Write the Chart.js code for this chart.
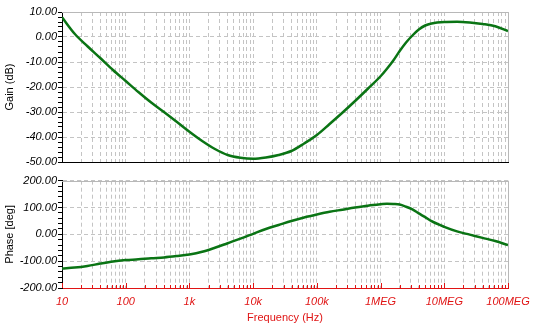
<!DOCTYPE html>
<html>
<head>
<meta charset="utf-8">
<script src="https://cdn.jsdelivr.net/npm/chart.js@4.4.1/dist/chart.umd.min.js"></script>
<style>
  html, body { margin: 0; padding: 0; background: #fff; }
  #wrap { position: relative; width: 546px; height: 335px; overflow: hidden; }
  #gainBox { position: absolute; left: 0; top: 0; width: 546px; height: 170px; }
  #phaseBox { position: absolute; left: 0; top: 170px; width: 546px; height: 165px; }
</style>
</head>
<body>
<div id="wrap">
  <div id="gainBox"><canvas id="gain" width="546" height="170"></canvas></div>
  <div id="phaseBox"><canvas id="phase" width="546" height="165"></canvas></div>
</div>
<script>
// Bode plot data: frequency points (Hz), gain (dB) and phase (deg)
const freqHz = [
  10, 15.8, 25.1, 39.8, 63.1,
  100, 158, 251, 398, 631,
  1000, 1585, 2512, 3981, 6310,
  10000, 15850, 25120, 39810, 63100,
  100000, 158500, 251200, 398100, 631000,
  1000000, 1259000, 1585000, 1995000, 2512000, 3162000, 3981000, 5012000, 6310000,
  10000000, 15850000, 25120000, 39810000, 63100000,
  100000000
];
const gainDb = [
  7.9, 1.3, -3.7, -8.4, -13.2,
  -17.6, -22.0, -26.2, -30.0, -33.9,
  -37.9, -41.6, -44.8, -47.2, -48.3,
  -48.7, -48.2, -47.2, -45.6, -42.6,
  -39.2, -34.8, -30.3, -25.6, -20.7,
  -15.7, -12.7, -9.4, -5.6, -2.2, 0.6, 3.0, 4.6, 5.4,
  6.0, 6.1, 5.8, 5.2, 4.3,
  2.4
];
const phaseDeg = [
  -127, -124, -118, -109, -101,
  -96, -93, -89, -86, -81,
  -75, -65, -50, -33, -16,
  2, 20, 35, 50, 63,
  74, 84, 92, 100, 107,
  112, 114, 113, 111, 103, 93, 78, 64, 49,
  28, 11, -1, -13, -25,
  -40
];

// Axis labelling
const decadeTicks = [10, 100, 1000, 10000, 100000, 1000000, 10000000, 100000000];
const decadeLabels = ['10', '100', '1k', '10k', '100k', '1MEG', '10MEG', '100MEG'];
const gainRange = [-50, 10];
const phaseRange = [-200, 200];

const RED = '#e01414';
const GRID = '#c4c4c4';
const FRAME = '#b8b8b8';
const LINE = '#0a7414';
const FONT = 'Arial, "Liberation Sans", sans-serif';

// every 1..9 x decade position on the frequency axis
const freqTickValues = [];
decadeTicks.forEach((d, i) => {
  if (i === decadeTicks.length - 1) { freqTickValues.push(d); return; }
  for (let m = 1; m <= 9; m++) freqTickValues.push(m * d);
});

function linearTicks(min, max, step) {
  const out = [];
  for (let v = min; v <= max + 1e-9; v += step) out.push(v);
  return out;
}

// gray top/right frame, plus short upward ticks on the frequency axis
const framePlugin = {
  id: 'frame',
  afterDatasetsDraw(chart, args, opts) {
    const { ctx, chartArea: a } = chart;
    ctx.save();
    ctx.lineWidth = 1;
    ctx.strokeStyle = FRAME;
    ctx.beginPath();
    ctx.moveTo(a.left, Math.round(a.top) + 0.5);
    ctx.lineTo(Math.round(a.right) + 0.5, Math.round(a.top) + 0.5);
    ctx.lineTo(Math.round(a.right) + 0.5, a.bottom);
    ctx.stroke();
    if (opts.tickColor) {
      const xs = chart.scales.x;
      ctx.strokeStyle = opts.tickColor;
      xs.ticks.forEach(t => {
        const px = Math.round(xs.getPixelForValue(t.value)) + 0.5;
        const len = decadeTicks.includes(t.value) ? 5 : 3;
        ctx.beginPath();
        ctx.moveTo(px, a.bottom);
        ctx.lineTo(px, a.bottom - len);
        ctx.stroke();
      });
    }
    ctx.restore();
  }
};

function freqAxis(showLabels, axisColor) {
  return {
    type: 'logarithmic',
    min: 10,
    max: 100000000,
    afterBuildTicks: s => { s.ticks = freqTickValues.map(v => ({ value: v })); },
    afterFit: s => { s.height = showLabels ? 47 : 0; },
    ticks: {
      display: showLabels,
      autoSkip: false,
      maxRotation: 0,
      minRotation: 0,
      padding: 7,
      color: RED,
      font: { family: FONT, size: 11, style: 'italic' },
      callback: v => {
        const i = decadeTicks.indexOf(v);
        return i >= 0 ? decadeLabels[i] : '';
      }
    },
    grid: { color: GRID, lineWidth: 1, drawTicks: false },
    border: { color: axisColor, width: 1, dash: [4, 3] },
    title: {
      display: showLabels,
      text: 'Frequency (Hz)',
      color: RED,
      font: { family: FONT, size: 11 },
      padding: { top: 0, bottom: 10 }
    }
  };
}

function valueAxis(range, step, major, label) {
  return {
    min: range[0],
    max: range[1],
    afterBuildTicks: s => { s.ticks = linearTicks(range[0], range[1], step).map(v => ({ value: v })); },
    afterFit: s => { s.width = 62; },
    ticks: {
      autoSkip: false,
      padding: 1,
      color: '#000',
      font: { family: FONT, size: 11, style: 'italic' },
      callback: v => (Math.abs(v % major) < 1e-9 ? (v === 0 ? 0 : v).toFixed(2) : '')
    },
    grid: {
      color: c => (c.tick && Math.abs(c.tick.value % major) < 1e-9 ? GRID : 'rgba(0,0,0,0)'),
      lineWidth: 1,
      tickColor: '#000',
      tickLength: 4
    },
    border: { color: '#000', width: 1, dash: [4, 3] },
    title: {
      display: true,
      text: label,
      color: '#000',
      font: { family: FONT, size: 11 },
      padding: { top: 3.4, bottom: 0 }
    }
  };
}

function makeChart(id, values, range, step, major, label, showFreq, axisColor, padding) {
  return new Chart(document.getElementById(id), {
    type: 'line',
    data: {
      datasets: [{
        data: freqHz.map((f, i) => ({ x: f, y: values[i] })),
        borderColor: LINE,
        borderWidth: 2.5,
        pointRadius: 0,
        fill: false,
        cubicInterpolationMode: 'monotone'
      }]
    },
    options: {
      responsive: false,
      animation: false,
      devicePixelRatio: 1,
      layout: { padding },
      plugins: {
        legend: { display: false },
        tooltip: { enabled: false },
        frame: { tickColor: showFreq ? RED : null }
      },
      scales: {
        x: freqAxis(showFreq, axisColor),
        y: valueAxis(range, step, major, label)
      }
    },
    plugins: [framePlugin]
  });
}

makeChart('gain', gainDb, gainRange, 2, 10, 'Gain (dB)', false, '#000',
  { top: 12, right: 38, bottom: 8, left: 0 });
makeChart('phase', phaseDeg, phaseRange, 20, 100, 'Phase [deg]', true, RED,
  { top: 10.7, right: 38, bottom: 0, left: 0 });
</script>
</body>
</html>
